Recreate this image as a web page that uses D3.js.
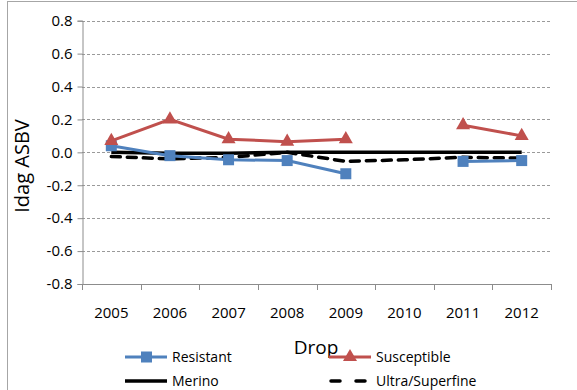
<!doctype html>
<html lang="en">
<head>
  <meta charset="utf-8">
  <title>Idag ASBV by drop</title>
  <script src="https://d3js.org/d3.v7.min.js"></script>
  <style>
    body { margin: 0; background: #fff; }
    text { font-family: "Open Sans", "Noto Sans", sans-serif; fill: #000; }
  </style>
</head>
<body>
  <div id="chart"></div>
  <script type="text/javascript">

    var width = 577, height = 390;

    // data (null = no value for that drop)
    var drops = ['2005','2006','2007','2008','2009','2010','2011','2012'];
    var resistant   = [0.04, -0.02, -0.045, -0.05, -0.13, null, -0.055, -0.05];
    var susceptible = [0.07, 0.20, 0.08, 0.065, 0.08, null, 0.165, 0.10];
    var merino      = [0.00, -0.005, -0.005, 0.00, 0.00, 0.00, 0.00, 0.00];
    var ultra       = [-0.025, -0.04, -0.03, 0.00, -0.055, -0.045, -0.03, -0.035];
    var yTicks = [-0.8,-0.6,-0.4,-0.2,0,0.2,0.4,0.6,0.8];

    var plotLeft = 82, plotRight = 551, plotTop = 20.7, plotBottom = 284;

    var x = d3.scaleBand().domain(drops).range([plotLeft, plotRight]);
    var y = d3.scaleLinear().domain([-0.8, 0.8]).range([plotBottom, plotTop]);

    var svg = d3.select('#chart').append('svg')
                .attr('width', width).attr('height', height);

    // outer chart border
    svg.append('rect').attr('x', 7.5).attr('y', 1.5)
       .attr('width', 600).attr('height', 420)
       .attr('fill', 'none').attr('stroke', '#a6a6a6').attr('stroke-width', 1);

    // grid
    svg.append('g').selectAll('line').data(yTicks.filter(function(d){ return d !== -0.8; }))
       .enter().append('line')
       .attr('x1', plotLeft).attr('x2', plotRight)
       .attr('y1', function(d){ return Math.round(y(d)) + 0.5; })
       .attr('y2', function(d){ return Math.round(y(d)) + 0.5; })
       .attr('stroke', '#9a9a9a').attr('stroke-width', 1)
       .attr('stroke-dasharray', '3,2');

    // y axis
    var yAxis = svg.append('g').attr('transform', 'translate(' + (plotLeft + 0.5) + ',0)')
       .call(d3.axisLeft(y).tickValues(yTicks).tickSize(5).tickPadding(5)
             .tickFormat(function(d){ return d3.format('.1f')(d).replace('−','-'); }));
    yAxis.select('.domain').attr('stroke', '#8c8c8c');
    yAxis.selectAll('.tick line').attr('stroke', '#8c8c8c');
    yAxis.selectAll('text').style('font-size', '15px')
         .style('font-family', '"Open Sans", sans-serif');

    // x axis with ticks between categories
    var xg = svg.append('g').attr('transform', 'translate(0,' + plotBottom + ')');
    xg.append('line').attr('x1', plotLeft).attr('x2', plotRight).attr('y1', 0.5).attr('y2', 0.5)
      .attr('stroke', '#8c8c8c');
    var bounds = drops.map(function(d){ return x(d); }).concat([plotRight]);
    xg.selectAll('.tk').data(bounds).enter().append('line')
      .attr('x1', function(d){ return Math.round(d) + 0.5; })
      .attr('x2', function(d){ return Math.round(d) + 0.5; })
      .attr('y1', 0).attr('y2', 6).attr('stroke', '#8c8c8c');
    xg.selectAll('.lbl').data(drops).enter().append('text')
      .attr('x', function(d){ return x(d) + x.bandwidth()/2; })
      .attr('y', 34).attr('text-anchor', 'middle')
      .style('font-size', '15px').text(function(d){ return d; });

    // axis titles
    svg.append('text').attr('x', 316).attr('y', 354).attr('text-anchor', 'middle')
       .style('font-size', '19px').text('Drop');
    svg.append('text').attr('transform', 'translate(29,166) rotate(-90)')
       .attr('text-anchor', 'middle').style('font-size', '20px').text('Idag ASBV');

    var cx = function(i){ return x(drops[i]) + x.bandwidth()/2; };
    var line = d3.line()
                 .defined(function(d){ return d !== null; })
                 .x(function(d, i){ return cx(i); }).y(function(d){ return y(d); });
    function points(arr) {
      return arr.map(function(v, i){ return { v: v, i: i }; })
                .filter(function(p){ return p.v !== null; });
    }

    var blue = '#4f81bd', red = '#c0504d';

    svg.append('path').datum(merino).attr('d', line)
       .attr('fill', 'none').attr('stroke', '#000').attr('stroke-width', 3.5);
    svg.append('path').datum(ultra).attr('d', line)
       .attr('fill', 'none').attr('stroke', '#000').attr('stroke-width', 3.5)
       .attr('stroke-dasharray', '9,7').attr('stroke-linecap', 'round');

    svg.append('path').datum(resistant).attr('d', line)
       .attr('fill', 'none').attr('stroke', blue).attr('stroke-width', 3);
    svg.selectAll('.sq').data(points(resistant)).enter()
       .append('rect')
       .attr('x', function(p){ return cx(p.i) - 5.5; })
       .attr('y', function(p){ return y(p.v) - 5.5; })
       .attr('width', 11).attr('height', 11).attr('fill', blue);

    svg.append('path').datum(susceptible).attr('d', line)
       .attr('fill', 'none').attr('stroke', red).attr('stroke-width', 3);
    var tri = d3.symbol().type(d3.symbolTriangle).size(85);
    svg.selectAll('.tri').data(points(susceptible)).enter()
       .append('path')
       .attr('d', tri)
       .attr('transform', function(p){ return 'translate(' + cx(p.i) + ',' + y(p.v) + ')'; })
       .attr('fill', red);

    // legend
    var lg = svg.append('g');
    function legendItem(lx, ly, name, draw) {
      draw(lg, lx, ly);
      lg.append('text').attr('x', lx + 47).attr('y', ly + 5)
        .style('font-size', '14px').text(name);
    }
    legendItem(125, 357, 'Resistant', function(g, lx, ly){
      g.append('line').attr('x1', lx).attr('x2', lx + 42).attr('y1', ly).attr('y2', ly)
       .attr('stroke', blue).attr('stroke-width', 3);
      g.append('rect').attr('x', lx + 16).attr('y', ly - 5.5).attr('width', 11).attr('height', 11)
       .attr('fill', blue);
    });
    legendItem(329, 357, 'Susceptible', function(g, lx, ly){
      g.append('line').attr('x1', lx).attr('x2', lx + 42).attr('y1', ly).attr('y2', ly)
       .attr('stroke', red).attr('stroke-width', 3);
      g.append('path').attr('d', tri)
       .attr('transform', 'translate(' + (lx + 21) + ',' + ly + ')').attr('fill', red);
    });
    legendItem(125, 381, 'Merino', function(g, lx, ly){
      g.append('line').attr('x1', lx).attr('x2', lx + 42).attr('y1', ly).attr('y2', ly)
       .attr('stroke', '#000').attr('stroke-width', 3.5);
    });
    legendItem(329, 381, 'Ultra/Superfine', function(g, lx, ly){
      g.append('line').attr('x1', lx + 2).attr('x2', lx + 42).attr('y1', ly).attr('y2', ly)
       .attr('stroke', '#000').attr('stroke-width', 3.5)
       .attr('stroke-dasharray', '9,16').attr('stroke-linecap', 'round');
    });

  </script>
</body>
</html>
